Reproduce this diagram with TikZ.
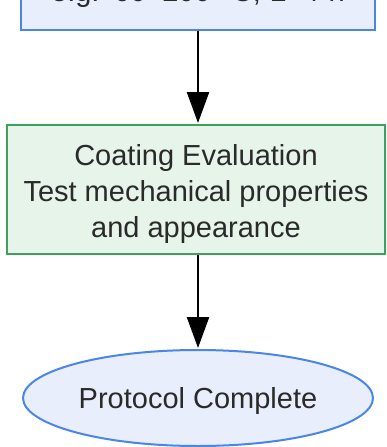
\documentclass[tikz,border=0pt]{standalone}
\usepackage{fontspec}
\setmainfont{Liberation Sans}
\usetikzlibrary{arrows.meta,shapes.geometric}

\definecolor{bluefill}{HTML}{E8EEFB}
\definecolor{blueline}{HTML}{4A86E8}
\definecolor{greenfill}{HTML}{E6F4E9}
\definecolor{greenline}{HTML}{3DA35A}
\definecolor{textgray}{HTML}{2A2A2A}

\begin{document}
\begin{tikzpicture}[x=1pt,y=-1pt,shorten >=1pt,line width=2pt]
    \tikzstyle{stepbox}=[rectangle,draw=blueline,fill=bluefill,text=textgray,inner sep=0pt,align=center,font=\fontsize{29}{36}\selectfont]
    \tikzstyle{checkbox}=[rectangle,draw=greenline,fill=greenfill,text=textgray,inner sep=0pt,align=center,font=\fontsize{29}{36}\selectfont]
    \tikzstyle{endnode}=[ellipse,draw=blueline,fill=bluefill,text=textgray,inner sep=0pt,font=\fontsize{29}{36}\selectfont]
    \tikzstyle{flow}=[line width=2.4pt,-{Triangle[length=31pt,width=22pt]}]
    \clip (0,0) rectangle (386,447);

    \node[stepbox,anchor=base,text width=354pt,text height=60pt,text depth=28pt] (cure) at (198,1.5) {e.g. 60--200 °C, 2--4 h};
    \node[checkbox,minimum width=378pt,minimum height=129pt] (eval) at (196,189.5)
        {\rule{0pt}{31pt}Coating Evaluation\\Test mechanical properties\\and appearance};
    \node[endnode,minimum width=350pt,minimum height=96pt,text height=26pt,text depth=6pt] (done) at (198,398) {Protocol Complete};

    \foreach \from/\to in {cure/eval, eval/done}
        \draw[flow] (\from.south -| 198,0) -- (\to.north -| 198,0);
\end{tikzpicture}
\end{document}
